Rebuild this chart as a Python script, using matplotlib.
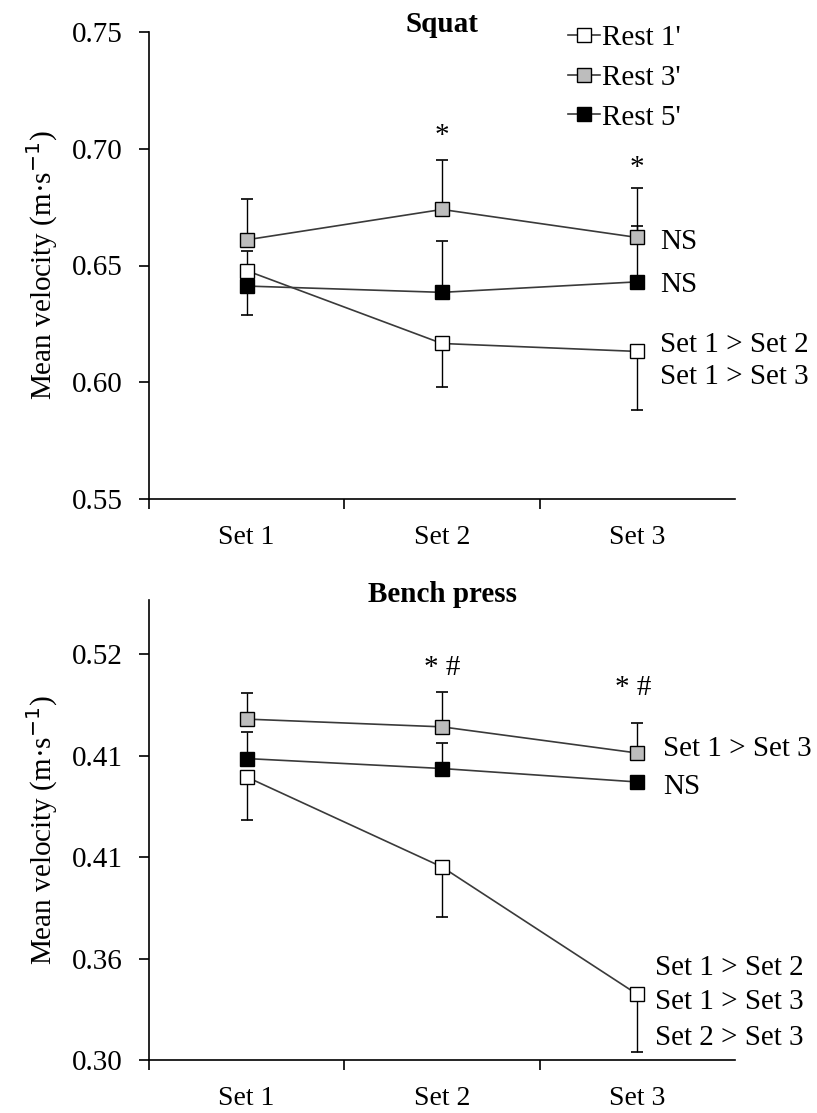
import numpy as np
import matplotlib.pyplot as plt
from matplotlib.ticker import FixedLocator, FixedFormatter

plt.rcParams['font.family'] = ['Liberation Serif', 'DejaVu Serif']

sets = ["Set 1", "Set 2", "Set 3"]
rests = ["Rest 1'", "Rest 3'", "Rest 5'"]
colors = ["white", "#bdbdbd", "black"]

# Squat: means and (lower, upper) error per rest
squat_mean = {
    "Rest 1'": [0.6478, 0.6166, 0.6132],
    "Rest 3'": [0.6610, 0.6740, 0.6620],
    "Rest 5'": [0.6412, 0.6385, 0.6430],
}
squat_lo = {
    "Rest 1'": [0.0, 0.0188, 0.0250],
    "Rest 3'": [0.0, 0.0, 0.0],
    "Rest 5'": [0.0122, 0.0, 0.0],
}
squat_hi = {
    "Rest 1'": [0.0085, 0.0, 0.0],
    "Rest 3'": [0.0174, 0.0211, 0.0210],
    "Rest 5'": [0.0, 0.0221, 0.0238],
}

# Bench press
bench_mean = {
    "Rest 1'": [0.4535, 0.4047, 0.3356],
    "Rest 3'": [0.4849, 0.4807, 0.4665],
    "Rest 5'": [0.4635, 0.4581, 0.4508],
}
bench_lo = {
    "Rest 1'": [0.0231, 0.0271, 0.0315],
    "Rest 3'": [0.0, 0.0, 0.0],
    "Rest 5'": [0.0, 0.0, 0.0],
}
bench_hi = {
    "Rest 1'": [0.0, 0.0, 0.0],
    "Rest 3'": [0.0143, 0.0190, 0.0164],
    "Rest 5'": [0.0145, 0.0136, 0.0],
}
bench_ticks = [0.30, 0.355, 0.41, 0.465, 0.52]
bench_ticklabels = ["0.30", "0.36", "0.41", "0.41", "0.52"]
squat_ticks = [0.55, 0.60, 0.65, 0.70, 0.75]

squat_notes = [(1.5, 0.7055, "*"), (2.5, 0.6916, "*")]
squat_side = [(2.615, 0.6599, "NS"), (2.615, 0.6415, "NS"),
              (2.615, 0.6158, "Set 1 > Set 2"), (2.615, 0.6021, "Set 1 > Set 3")]
bench_notes = [(1.5, 0.5126, "* #"), (2.48, 0.5018, "* #")]
bench_side = [(2.63, 0.4687, "Set 1 > Set 3"), (2.63, 0.4480, "NS"),
              (2.59, 0.3499, "Set 1 > Set 2"), (2.59, 0.3314, "Set 1 > Set 3"),
              (2.59, 0.3122, "Set 2 > Set 3")]

x = np.arange(len(sets)) + 0.5

fig = plt.figure(figsize=(8.17, 11.13), dpi=100)
ax1 = fig.add_axes([149/817, 1-499/1113, 586/817, 467/1113])
ax2 = fig.add_axes([149/817, 1-1060/1113, 586/817, 460/1113])


def draw(ax, mean, lo, hi):
    handles = []
    for r, c in zip(rests, colors):
        ax.errorbar(x, mean[r], yerr=[lo[r], hi[r]], fmt='none', ecolor='black',
                    elinewidth=1, capsize=4, capthick=1.2, zorder=2)
        h, = ax.plot(x, mean[r], '-', color='#3a3a3a', lw=1.2, marker='s', ms=10,
                     mfc=c, mec='black', mew=1, zorder=3, label=r)
        handles.append(h)
    ax.set_xlim(0, 3)
    ax.set_xticks(x)
    ax.set_xticklabels(sets)
    ax.xaxis.set_minor_locator(FixedLocator([0, 1, 2]))
    ax.tick_params(axis='x', which='major', length=0, labelsize=20, pad=19)
    ax.tick_params(axis='x', which='minor', length=7, width=1.2, direction='out')
    ax.tick_params(axis='y', length=7, width=1.2, direction='out', labelsize=21, pad=12)
    for s in ['top', 'right']:
        ax.spines[s].set_visible(False)
    for s in ['left', 'bottom']:
        ax.spines[s].set_linewidth(1.2)
    ax.set_ylabel("Mean velocity (m·s$^{-1}$)", fontsize=21, labelpad=8)
    return handles


handles = draw(ax1, squat_mean, squat_lo, squat_hi)
ax1.set_ylim(0.55, 0.75)
ax1.set_yticks(squat_ticks)
ax1.set_yticklabels([f"{v:.2f}" for v in squat_ticks])
ax1.text(0.5, 1.0 + 8/467, "Squat", transform=ax1.transAxes, ha='center', va='center',
         fontsize=21, fontweight='bold')
for xx, yy, t in squat_notes:
    ax1.text(xx, yy, t, ha='center', va='center', fontsize=21)
for xx, yy, t in squat_side:
    ax1.text(xx, yy, t, ha='left', va='center', fontsize=21)

fig.legend(handles=handles, loc='upper left', bbox_to_anchor=(568/817, 1-25/1113),
           frameon=False, fontsize=21, handlelength=1.1, handletextpad=0.05,
           labelspacing=0.45, borderaxespad=0, borderpad=0)

draw(ax2, bench_mean, bench_lo, bench_hi)
ax2.set_ylim(0.30, 0.5495)
ax2.yaxis.set_major_locator(FixedLocator(bench_ticks))
ax2.yaxis.set_major_formatter(FixedFormatter(bench_ticklabels))
ax2.text(0.5, 1.0 + 6/460, "Bench press", transform=ax2.transAxes, ha='center', va='center',
         fontsize=21, fontweight='bold')
for xx, yy, t in bench_notes:
    ax2.text(xx, yy, t, ha='center', va='center', fontsize=21)
for xx, yy, t in bench_side:
    ax2.text(xx, yy, t, ha='left', va='center', fontsize=21)

fig.savefig("out.png", dpi=100)
